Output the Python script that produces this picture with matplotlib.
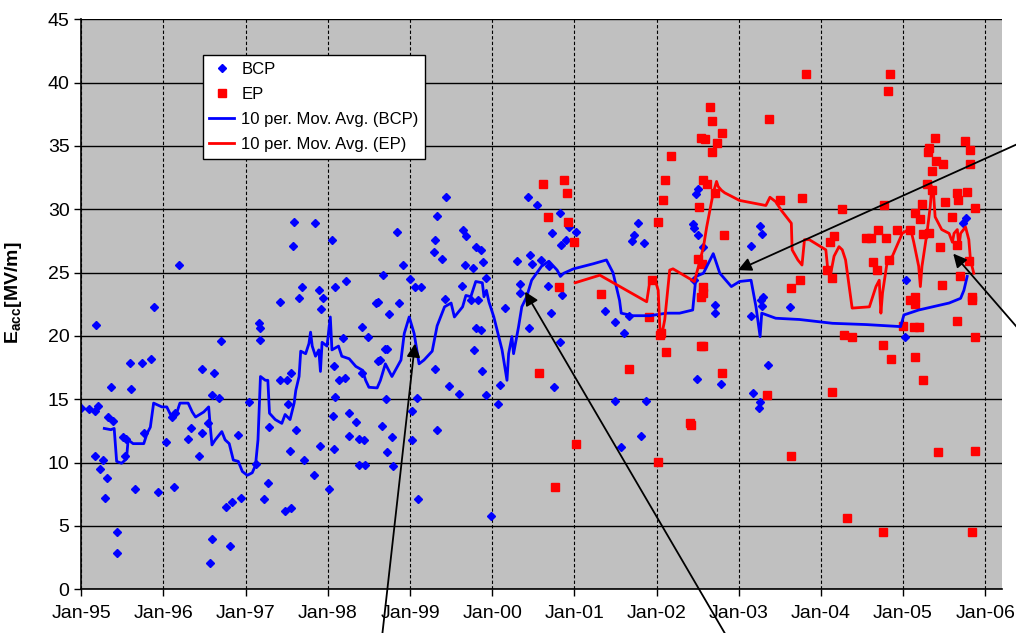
#!/usr/bin/env python3
import matplotlib
matplotlib.use('Agg')
import matplotlib.pyplot as plt

# --------------------
# DATA (time in decimal years, Eacc in MV/m)
# --------------------
BCP_T = [1995.00, 1995.09, 1995.17, 1995.20, 1995.18, 1995.36, 1995.33, 1995.39, 1995.17, 1995.26,
         1995.23, 1995.31, 1995.29, 1995.44, 1995.43, 1995.59, 1995.74, 1995.85, 1995.61, 1995.88,
         1996.19, 1995.51, 1995.55, 1995.53, 1995.65, 1995.76, 1995.93, 1996.03, 1996.13, 1996.10,
         1996.14, 1996.30, 1996.34, 1996.47, 1996.43, 1996.47, 1996.61, 1996.70, 1996.59, 1996.68,
         1996.54, 1996.59, 1996.57, 1996.81, 1996.76, 1996.83, 1996.94, 1996.91, 1997.04, 1997.12,
         1997.22, 1997.27, 1997.16, 1997.18, 1997.18, 1997.28, 1997.42, 1997.42, 1997.50, 1997.55,
         1997.52, 1997.54, 1997.48, 1997.55, 1997.59, 1997.84, 1997.58, 1998.05, 1997.68, 1997.65,
         1997.89, 1997.94, 1997.92, 1998.09, 1998.22, 1997.61, 1997.71, 1997.90, 1997.83, 1998.02,
         1998.07, 1998.06, 1998.09, 1998.13, 1998.26, 1998.34, 1998.26, 1998.38, 1998.38, 1998.41,
         1998.49, 1998.61, 1998.67, 1998.74, 1998.69, 1998.63, 1998.71, 1998.66, 1998.78, 1998.72,
         1998.79, 1998.84, 1998.44, 1998.45, 1998.21, 1998.08, 1998.41, 1998.72, 1998.61, 1998.19,
         1998.86, 1998.92, 1999.00, 1999.06, 1999.13, 1998.59, 1999.08, 1999.03, 1999.03, 1999.33,
         1999.10, 1999.31, 1999.48, 1999.60, 1999.78, 1999.88, 1999.93, 2000.07, 1999.99, 1999.44,
         1999.33, 1999.65, 1999.68, 1999.31, 1999.29, 1999.39, 1999.80, 1999.86, 1999.89, 1999.67,
         1999.77, 1999.63, 1999.93, 1999.42, 2000.16, 2000.45, 2000.71, 2000.83, 2000.75, 2000.44,
         2000.55, 2000.83, 2000.94, 2001.02, 2000.73, 2000.90, 2000.84, 2000.46, 2000.60, 2000.48,
         2000.30, 2000.69, 2000.34, 2000.68, 2000.85, 2001.37, 2001.49, 2001.87, 2001.60, 2001.81,
         2001.57, 2001.50, 2001.67, 2001.77, 2001.72, 2001.70, 2001.85, 2002.49, 2002.50, 2002.48,
         2002.44, 2002.50, 2002.46, 2002.57, 2002.46, 2002.71, 2002.71, 2003.26, 2003.28, 2003.15,
         2003.30, 2003.27, 2003.62, 2003.28, 2003.15, 2003.36, 2002.78, 2003.17, 2003.26, 2003.25,
         2005.02, 2005.03, 2005.73, 2005.76, 1999.74, 1999.83, 1999.80, 1999.86, 2000.34, 2000.10]
BCP_E = [14.3, 14.2, 14.1, 14.5, 20.9, 16.0, 13.6, 13.3, 10.5, 10.2,
         9.5, 8.8, 7.2, 4.5, 2.9, 17.9, 17.9, 18.2, 15.8, 22.3,
         25.6, 12.0, 11.9, 10.5, 7.9, 12.3, 7.7, 11.6, 8.1, 13.6,
         13.9, 11.9, 12.7, 12.3, 10.5, 17.4, 17.1, 19.6, 15.3, 15.1,
         13.1, 4.0, 2.1, 3.4, 6.5, 6.9, 7.2, 12.2, 14.8, 9.9,
         7.1, 8.4, 21.0, 20.6, 19.7, 12.8, 22.7, 16.5, 16.5, 17.1,
         14.6, 10.9, 6.2, 6.4, 29.0, 28.9, 27.1, 27.6, 23.9, 23.0,
         23.6, 23.0, 22.1, 23.9, 24.3, 12.6, 10.2, 11.3, 9.0, 7.9,
         11.05, 13.7, 15.2, 16.5, 13.9, 13.2, 12.1, 11.9, 9.8, 20.7,
         19.9, 22.7, 24.8, 21.7, 19.0, 18.1, 15.0, 12.9, 12.0, 10.8,
         9.7, 28.2, 11.8, 9.8, 16.7, 17.6, 17.05, 19.0, 18.0, 19.8,
         22.6, 25.6, 24.5, 23.9, 23.9, 22.6, 15.1, 14.1, 11.8, 12.6,
         7.1, 17.4, 16.05, 15.45, 18.9, 17.2, 15.3, 14.6, 5.8, 31.0,
         29.5, 28.4, 27.9, 27.6, 26.6, 26.05, 27.0, 26.8, 25.8, 25.6,
         25.4, 23.95, 24.55, 22.9, 22.2, 20.6, 21.8, 19.5, 16.0, 31.0,
         30.3, 29.7, 28.6, 28.2, 28.1, 27.6, 27.2, 26.4, 26.0, 25.7,
         25.9, 25.5, 24.1, 23.95, 23.2, 22.0, 14.9, 14.9, 20.2, 12.1,
         11.2, 21.1, 21.6, 28.9, 28.0, 27.5, 27.3, 16.6, 31.6, 31.2,
         28.8, 28.0, 28.5, 27.05, 24.4, 22.45, 21.8, 28.7, 28.05, 27.1,
         23.1, 22.8, 22.3, 22.4, 21.6, 17.7, 16.2, 15.5, 14.8, 14.3,
         19.9, 24.4, 28.9, 29.3, 22.8, 22.8, 20.6, 20.5, 23.4, 16.1]

EP_T = [2000.57, 2001.02, 2000.77, 2001.67, 2002.02, 2002.41, 2002.11, 2002.06, 2002.04, 2002.54,
        2000.62, 2000.87, 2000.91, 2000.68, 2000.92, 2001.00, 2000.81, 2001.32, 2001.94, 2001.91,
        2002.17, 2002.10, 2002.08, 2002.02, 2002.54, 2002.52, 2002.50, 2002.54, 2003.82, 2004.84,
        2004.82, 2002.65, 2002.67, 2002.80, 2002.59, 2002.74, 2002.67, 2003.37, 2002.57, 2002.61,
        2002.71, 2002.82, 2002.55, 2002.57, 2002.56, 2003.50, 2003.77, 2004.26, 2004.77, 2004.16,
        2004.11, 2004.55, 2004.61, 2004.70, 2004.79, 2004.92, 2004.63, 2004.68, 2004.83, 2003.74,
        2003.64, 2004.07, 2004.13, 2005.39, 2005.32, 2005.30, 2005.75, 2005.81, 2005.82, 2005.40,
        2005.49, 2005.35, 2005.29, 2005.35, 2005.65, 2005.78, 2005.67, 2005.51, 2005.87, 2005.23,
        2005.15, 2005.20, 2005.32, 2005.24, 2005.08, 2005.45, 2005.59, 2005.65, 2005.80, 2005.69,
        2005.47, 2005.84, 2005.15, 2002.56, 2002.80, 2003.35, 2002.42, 2003.64, 2004.28, 2004.38,
        2004.75, 2004.85, 2004.14, 2004.32, 2004.75, 2005.00, 2005.19, 2005.15, 2005.24, 2005.66,
        2005.87, 2005.43, 2005.87, 2005.84, 2005.15, 2005.84, 2005.09, 2005.13]
EP_E = [17.1, 11.5, 8.1, 17.4, 10.05, 13.1, 18.7, 20.2, 20.1, 19.2,
        32.0, 32.3, 31.3, 29.4, 29.0, 27.45, 23.9, 23.3, 24.4, 21.5,
        34.2, 32.3, 30.7, 29.0, 35.6, 30.2, 26.1, 23.1, 40.7, 40.7,
        39.3, 38.05, 37.0, 36.0, 35.55, 35.2, 34.5, 37.1, 32.3, 32.0,
        31.3, 28.0, 25.7, 23.9, 23.4, 30.7, 30.9, 30.0, 30.3, 27.9,
        27.4, 27.7, 27.7, 28.4, 27.7, 28.4, 25.8, 25.2, 26.0, 24.4,
        23.8, 25.2, 24.6, 35.6, 34.8, 34.5, 35.4, 34.7, 33.6, 33.8,
        33.6, 33.05, 32.0, 31.5, 31.3, 31.35, 30.7, 30.55, 30.1, 30.4,
        29.7, 29.2, 28.1, 28.05, 28.4, 27.0, 29.4, 27.2, 25.9, 24.7,
        24.0, 23.1, 23.1, 19.2, 17.1, 15.3, 13.0, 10.5, 20.1, 19.9,
        19.3, 18.2, 15.6, 5.65, 4.5, 20.8, 20.7, 18.3, 16.5, 21.2,
        19.9, 10.8, 10.9, 4.5, 22.5, 22.8, 22.8, 20.7]

# 10 period moving average trendlines, read as vertices from the chart
BCP_MA_T = [1995.28, 1995.36, 1995.40, 1995.43, 1995.49, 1995.55, 1995.57, 1995.63, 1995.76, 1995.80,
            1995.84, 1995.88, 1995.98, 1996.04, 1996.10, 1996.16, 1996.20, 1996.30, 1996.35, 1996.39,
            1996.49, 1996.55, 1996.57, 1996.59, 1996.63, 1996.71, 1996.75, 1996.80, 1996.85, 1996.91,
            1996.96, 1997.02, 1997.08, 1997.12, 1997.15, 1997.18, 1997.24, 1997.27, 1997.29, 1997.36,
            1997.44, 1997.48, 1997.54, 1997.59, 1997.61, 1997.65, 1997.67, 1997.73, 1997.77, 1997.79,
            1997.81, 1997.85, 1997.89, 1997.91, 1997.93, 1997.99, 1998.03, 1998.05, 1998.13, 1998.17,
            1998.26, 1998.34, 1998.42, 1998.46, 1998.50, 1998.60, 1998.64, 1998.70, 1998.78, 1998.89,
            1998.93, 1998.99, 1999.05, 1999.11, 1999.17, 1999.27, 1999.33, 1999.42, 1999.50, 1999.54,
            1999.64, 1999.68, 1999.74, 1999.80, 1999.88, 1999.90, 1999.93, 1999.96, 2000.02, 2000.08,
            2000.12, 2000.18, 2000.20, 2000.24, 2000.26, 2000.32, 2000.36, 2000.42, 2000.48, 2000.60,
            2000.69, 2000.79, 2000.83, 2000.87, 2000.99, 2001.23, 2001.39, 2001.47, 2001.55, 2001.57,
            2001.71, 2001.92, 2002.12, 2002.28, 2002.44, 2002.48, 2002.57, 2002.69, 2002.77, 2002.91,
            2003.01, 2003.15, 2003.21, 2003.26, 2003.28, 2003.45, 2003.74, 2004.14, 2004.55, 2004.97,
            2005.01, 2005.19, 2005.56, 2005.70, 2005.74, 2005.78]
BCP_MA_E = [12.7, 12.6, 12.7, 10.1, 9.95, 10.3, 11.8, 11.5, 11.5, 12.3,
            12.8, 14.7, 14.4, 14.4, 13.6, 13.9, 14.7, 14.7, 14.0, 13.6,
            14.0, 14.4, 12.8, 11.4, 11.8, 12.45, 11.8, 11.5, 10.2, 10.1,
            9.3, 9.0, 9.2, 9.8, 11.8, 16.8, 16.5, 16.5, 13.9, 13.4,
            13.1, 13.8, 13.4, 14.7, 15.7, 16.8, 18.8, 18.6, 19.4, 20.3,
            19.2, 18.4, 18.9, 17.2, 19.5, 19.2, 21.5, 18.9, 19.2, 18.4,
            18.2, 17.6, 17.3, 16.5, 15.95, 15.9, 16.5, 17.8, 16.8, 18.1,
            20.2, 21.5, 20.2, 17.8, 18.1, 18.8, 20.8, 22.3, 22.6, 21.5,
            22.3, 23.2, 23.1, 24.3, 24.2, 23.1, 23.6, 22.7, 21.5, 19.95,
            18.9, 16.5, 18.6, 19.95, 18.6, 20.7, 22.3, 23.1, 24.4, 25.5,
            25.9, 25.2, 24.7, 24.95, 25.3, 25.7, 26.0, 25.0, 22.8, 21.8,
            21.6, 21.6, 21.8, 21.8, 22.05, 24.7, 24.95, 26.5, 24.95, 23.9,
            24.3, 24.4, 22.3, 19.95, 21.8, 21.4, 21.3, 21.0, 20.9, 20.74,
            21.66, 22.05, 22.6, 22.97, 23.6, 24.7]

EP_MA_T = [2001.01, 2001.31, 2001.88, 2001.92, 2001.98, 2002.02, 2002.04, 2002.06, 2002.10, 2002.16,
           2002.20, 2002.46, 2002.51, 2002.57, 2002.61, 2002.69, 2002.73, 2002.75, 2002.79, 2002.83,
           2003.01, 2003.33, 2003.38, 2003.45, 2003.52, 2003.64, 2003.65, 2003.72, 2003.77, 2003.80,
           2003.86, 2004.06, 2004.08, 2004.12, 2004.16, 2004.22, 2004.26, 2004.30, 2004.38, 2004.59,
           2004.67, 2004.71, 2004.73, 2004.75, 2004.81, 2004.87, 2004.99, 2005.09, 2005.13, 2005.19,
           2005.21, 2005.23, 2005.29, 2005.33, 2005.35, 2005.37, 2005.39, 2005.43, 2005.47, 2005.56,
           2005.60, 2005.62, 2005.66, 2005.68, 2005.70, 2005.76, 2005.80, 2005.82, 2005.86]
EP_MA_E = [24.2, 24.8, 22.7, 24.4, 24.5, 23.6, 20.7, 19.95, 21.3, 25.2,
           25.3, 24.3, 25.5, 27.0, 28.6, 31.3, 32.2, 31.8, 31.5, 31.3,
           30.7, 30.3, 30.95, 30.6, 29.9, 28.9, 26.8, 26.0, 25.6, 27.6,
           27.6, 26.8, 25.5, 24.95, 26.3, 27.05, 26.8, 26.0, 22.2, 22.3,
           23.9, 24.4, 21.8, 23.4, 26.0, 26.3, 28.1, 28.5, 27.4, 25.5,
           23.9, 25.5, 28.1, 30.2, 31.8, 31.3, 29.4, 28.9, 28.4, 28.1,
           27.4, 28.1, 28.4, 27.05, 28.1, 28.6, 27.6, 26.0, 24.95]

YEAR_TICKS = list(range(1995, 2007))
YEAR_LABELS = ['Jan-95', 'Jan-96', 'Jan-97', 'Jan-98', 'Jan-99', 'Jan-00',
               'Jan-01', 'Jan-02', 'Jan-03', 'Jan-04', 'Jan-05', 'Jan-06']
E_TICKS = list(range(0, 46, 5))

# arrow tips (data) and tails (figure pixels, may lie off the figure)
ARROW_TIPS = [(1999.06, 19.4), (2000.40, 23.5), (2002.99, 25.2), (2005.61, 26.5)]
ARROW_TAILS = [(382, -4), (727, -4), (1022, 491), (1022, 300)]

# --------------------
# STYLE
# --------------------
plt.rcParams['font.family'] = ['Liberation Sans', 'DejaVu Sans']
plt.rcParams['mathtext.fontset'] = 'custom'
plt.rcParams['mathtext.rm'] = 'Liberation Sans'
plt.rcParams['mathtext.bf'] = 'Liberation Sans:bold'


def main():
    fig = plt.figure(figsize=(10.16, 6.33), dpi=100)
    W, H = 1016, 633
    left, right, top, bottom = 81.3, 1001.7, 19.3, 589.3
    ax = fig.add_axes([left / W, (H - bottom) / H, (right - left) / W, (bottom - top) / H])
    ax.set_facecolor('#c0c0c0')

    # scatter series
    ax.plot(BCP_T, BCP_E, ls='none', marker='D', ms=4.5, color='#0000ff', label='BCP')
    ax.plot(EP_T, EP_E, ls='none', marker='s', ms=6, color='#ff0000', label='EP')

    # moving average trendlines
    ax.plot(BCP_MA_T, BCP_MA_E, color='#0000ff', lw=2, label='10 per. Mov. Avg. (BCP)')
    ax.plot(EP_MA_T, EP_MA_E, color='#ff0000', lw=2, label='10 per. Mov. Avg. (EP)')

    ax.set_xlim(1995, 2006.2)
    ax.set_ylim(0, 45)
    ax.set_xticks(YEAR_TICKS)
    ax.set_xticklabels(YEAR_LABELS)
    ax.set_yticks(E_TICKS)

    ax.set_axisbelow(True)
    ax.yaxis.grid(True, color='black', lw=1.0)
    ax.xaxis.grid(True, color='black', lw=0.8, ls=(0, (3, 2)))

    for side in ('top', 'right'):
        ax.spines[side].set_visible(False)
    for side in ('left', 'bottom'):
        ax.spines[side].set_color('black')
        ax.spines[side].set_linewidth(1.2)

    ax.tick_params(axis='both', direction='out', length=5, width=1, color='black', labelsize=14)
    ax.tick_params(axis='x', pad=6)

    ax.set_ylabel(r'E$_{\mathbf{acc}}$[MV/m]', fontsize=14, fontweight='bold')
    ax.yaxis.set_label_coords(-0.062, 0.52)

    leg = ax.legend(loc='upper left', bbox_to_anchor=(0.132, 0.937), borderaxespad=0,
                    fontsize=12, frameon=True, fancybox=False, framealpha=1,
                    handlelength=1.5, handletextpad=0.4, labelspacing=0.6, borderpad=0.4)
    leg.get_frame().set_edgecolor('black')
    leg.get_frame().set_linewidth(1)

    # annotation arrows
    for tip, tail in zip(ARROW_TIPS, ARROW_TAILS):
        ax.annotate('', xy=tip, xycoords='data', xytext=tail, textcoords='figure pixels',
                    arrowprops=dict(arrowstyle='-|>', color='black', lw=1.3,
                                    mutation_scale=20, shrinkA=0, shrinkB=0),
                    annotation_clip=False)

    fig.savefig('out.png', dpi=100)


if __name__ == '__main__':
    main()
